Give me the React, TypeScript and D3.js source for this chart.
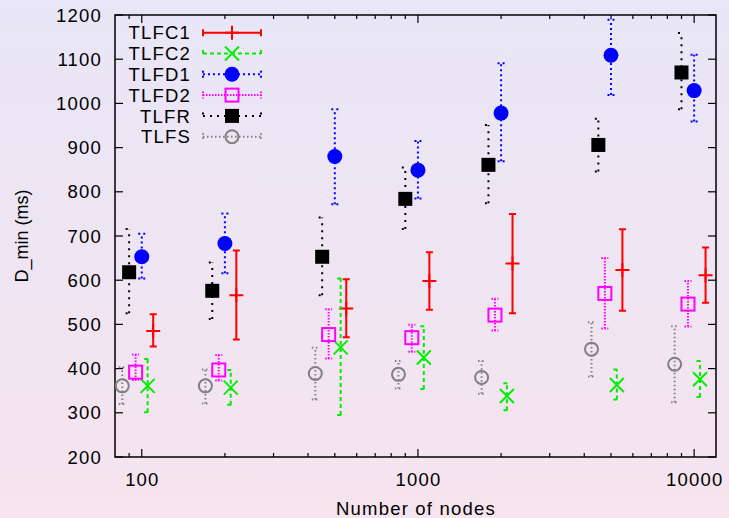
import React from 'react'
import * as d3 from 'd3'

// x values (number of nodes) and the horizontal shift gnuplot used per series
const nodes = [100, 200, 500, 1000, 2000, 5000, 10000]
const seriesNames = ['TLFC1', 'TLFC2', 'TLFD1', 'TLFD2', 'TLFR', 'TLFS']
const shifts = [1.1, 1.05, 1.0, 0.95, 0.9, 0.85]

const tlfc1 = [485, 566, 536, 598, 638, 623, 611]
const tlfc1Lo = [450, 466, 471, 533, 525, 531, 549]
const tlfc1Hi = [523, 667, 602, 663, 750, 715, 674]

const tlfc2 = [361, 357, 448, 425, 338, 363, 376]
const tlfc2Lo = [301, 318, 295, 354, 306, 330, 336]
const tlfc2Hi = [422, 397, 604, 496, 367, 398, 417]

const tlfd1 = [653, 683, 880, 849, 978, 1109, 1029]
const tlfd1Lo = [604, 616, 772, 785, 869, 1019, 959]
const tlfd1Hi = [705, 751, 987, 915, 1091, 1189, 1110]

const tlfd2 = [392, 397, 477, 470, 521, 570, 546]
const tlfd2Lo = [374, 373, 423, 438, 486, 491, 495]
const tlfd2Hi = [432, 431, 534, 499, 558, 650, 598]

const tlfr = [618, 576, 653, 784, 861, 906, 1070]
const tlfrLo = [525, 512, 566, 716, 774, 846, 987]
const tlfrHi = [716, 640, 742, 855, 951, 965, 1159]

const tlfs = [361, 361, 389, 387, 380, 444, 410]
const tlfsLo = [320, 321, 330, 355, 343, 382, 324]
const tlfsHi = [403, 398, 447, 417, 417, 505, 496]

const yTicks = [200, 300, 400, 500, 600, 700, 800, 900, 1000, 1100, 1200]
const xTickLabels = [100, 1000, 10000]

type Style = { color: string; dash: string; marker: string }
const styles: Style[] = [
  { color: '#ff0000', dash: '', marker: 'plus' },
  { color: '#00ee00', dash: '4,3', marker: 'cross' },
  { color: '#0000ff', dash: '2,3', marker: 'disc' },
  { color: '#ff00ff', dash: '1.5,1.5', marker: 'square' },
  { color: '#000000', dash: '2,5', marker: 'block' },
  { color: '#808080', dash: '1.5,2.5', marker: 'ring' },
]

const vals = [tlfc1, tlfc2, tlfd1, tlfd2, tlfr, tlfs]
const los = [tlfc1Lo, tlfc2Lo, tlfd1Lo, tlfd2Lo, tlfrLo, tlfsLo]
const his = [tlfc1Hi, tlfc2Hi, tlfd1Hi, tlfd2Hi, tlfrHi, tlfsHi]

const W = 729
const H = 518
const m = { left: 115, right: 716, top: 15, bottom: 457 }
const font = '"Liberation Sans", Arial, sans-serif'
// gnuplot's horizontal text comes out a bit wider than Arial
const txt = { fontSize: 18.5, fontFamily: font, letterSpacing: 1.2 }

const Marker: React.FC<{ kind: string; x: number; y: number; color: string }> = ({ kind, x, y, color }) => {
  const s = 7
  switch (kind) {
    case 'plus':
      return <path d={`M${x - s},${y}H${x + s}M${x},${y - s}V${y + s}`} stroke={color} strokeWidth={2} fill="none" />
    case 'cross':
      return <path d={`M${x - s},${y - s}L${x + s},${y + s}M${x - s},${y + s}L${x + s},${y - s}`} stroke={color} strokeWidth={2} fill="none" />
    case 'disc':
      return <circle cx={x} cy={y} r={7.5} fill={color} />
    case 'square':
      return <rect x={x - 6.5} y={y - 6.5} width={13} height={13} stroke={color} strokeWidth={2} fill="none" />
    case 'block':
      return <rect x={x - 7} y={y - 7} width={14} height={14} fill={color} />
    default:
      return <circle cx={x} cy={y} r={6.5} stroke={color} strokeWidth={2} fill="none" />
  }
}

const App: React.FC = () => {
  const x = d3.scaleLog().domain([80, 12000]).range([m.left, m.right])
  const y = d3.scaleLinear().domain([200, 1200]).range([m.bottom, m.top])

  const minorTicks: number[] = []
  for (const dec of [10, 100, 1000, 10000]) {
    for (let k = 2; k <= 9; k++) {
      const v = dec * k
      if (v > 80 && v < 12000) minorTicks.push(v)
    }
  }

  return (
    <svg width={W} height={H} style={{ position: 'absolute', left: 0, top: 0 }}>
      <defs>
        <linearGradient id="bg" x1="0" y1="0" x2="0" y2="1">
          <stop offset="0" stopColor="#e8e6f7" />
          <stop offset="1" stopColor="#f6e4ee" />
        </linearGradient>
      </defs>
      <rect x={0} y={0} width={W} height={H} fill="url(#bg)" />

      {/* y ticks, mirrored on the right */}
      {yTicks.map(t => (
        <g key={'y' + t}>
          <line x1={m.left} x2={m.left + 8} y1={y(t)} y2={y(t)} stroke="#000" strokeWidth={1.2} />
          <line x1={m.right} x2={m.right - 8} y1={y(t)} y2={y(t)} stroke="#000" strokeWidth={1.2} />
          <text x={102} y={y(t)} dy="0.36em" textAnchor="end" {...txt}>{t}</text>
        </g>
      ))}

      {/* x ticks, log scale, mirrored at top */}
      {minorTicks.map(t => (
        <g key={'mx' + t}>
          <line x1={x(t)} x2={x(t)} y1={m.bottom} y2={m.bottom - 4} stroke="#000" strokeWidth={1.2} />
          <line x1={x(t)} x2={x(t)} y1={m.top} y2={m.top + 4} stroke="#000" strokeWidth={1.2} />
        </g>
      ))}
      {xTickLabels.map(t => (
        <g key={'x' + t}>
          <line x1={x(t)} x2={x(t)} y1={m.bottom} y2={m.bottom - 8} stroke="#000" strokeWidth={1.2} />
          <line x1={x(t)} x2={x(t)} y1={m.top} y2={m.top + 8} stroke="#000" strokeWidth={1.2} />
          <text x={x(t) + 0.6} y={479} dy="0.36em" textAnchor="middle" {...txt}>{t}</text>
        </g>
      ))}

      <rect x={m.left} y={m.top} width={m.right - m.left} height={m.bottom - m.top} fill="none" stroke="#000" strokeWidth={1.5} />

      {/* error bars and points */}
      {seriesNames.map((name, si) => {
        const st = styles[si]
        return (
          <g key={name}>
            {nodes.map((n, i) => {
              const px = x(n * shifts[si])
              const y0 = y(los[si][i])
              const y1 = y(his[si][i])
              const cap = 3.5
              return (
                <g key={n}>
                  <path
                    d={`M${px},${y0}V${y1}M${px - cap},${y0}H${px + cap}M${px - cap},${y1}H${px + cap}`}
                    stroke={st.color}
                    strokeWidth={2}
                    strokeDasharray={st.dash}
                    fill="none"
                  />
                  <Marker kind={st.marker} x={px} y={y(vals[si][i])} color={st.color} />
                </g>
              )
            })}
          </g>
        )
      })}

      {/* legend */}
      {seriesNames.map((name, si) => {
        const st = styles[si]
        const ly = 32.7 + si * 20.8
        return (
          <g key={'lg' + name}>
            <text x={191} y={ly} dy="0.36em" textAnchor="end" {...txt}>{name}</text>
            <path
              d={`M203,${ly}H261M203,${ly - 3.5}V${ly + 3.5}M261,${ly - 3.5}V${ly + 3.5}`}
              stroke={st.color}
              strokeWidth={2}
              strokeDasharray={st.dash}
              fill="none"
            />
            <Marker kind={st.marker} x={232} y={ly} color={st.color} />
          </g>
        )
      })}

      <text x={416} y={508} dy="0.36em" textAnchor="middle" {...txt}>Number of nodes</text>
      <text transform={`translate(22,${(m.top + m.bottom) / 2}) rotate(-90)`} dy="0.36em" textAnchor="middle" fontSize={18} fontFamily={font}>D_min (ms)</text>
    </svg>
  )
}

export default App
